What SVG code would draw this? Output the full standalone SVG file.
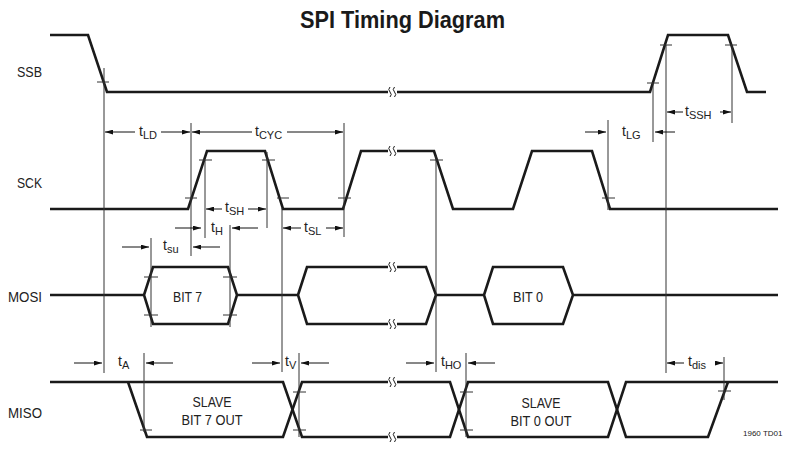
<svg xmlns="http://www.w3.org/2000/svg" width="785" height="451" viewBox="0 0 785 451">
<defs>
<marker id="ah" viewBox="0 0 10 6" refX="10" refY="3" markerWidth="8" markerHeight="5" orient="auto" markerUnits="userSpaceOnUse"><path d="M0,0 L10,3 L0,6 z" fill="#111"/></marker>
</defs>
<style>
.sig{fill:none;stroke:#1a1a1a;stroke-width:2.6;stroke-linejoin:miter}
.thin{fill:none;stroke:#333;stroke-width:1}
.tick{fill:none;stroke:#333;stroke-width:1}
.arr{fill:none;stroke:#111;stroke-width:1;marker-end:url(#ah)}
.brk{fill:none;stroke:#1a1a1a;stroke-width:1}
.gap{fill:#fff;stroke:none}
text{font-family:"Liberation Sans Narrow","Liberation Sans",Arial,sans-serif;fill:#222}
.title{font-size:24px;font-weight:bold;fill:#1a1a1a}
.name{font-size:14px}
.lbl{font-size:14px}
.t{font-size:14px}
.sub{font-size:11px}
.small{font-size:8px}
</style>
<rect width="785" height="451" fill="#fff"/>
<text class="title" x="300" y="28" textLength="205" lengthAdjust="spacingAndGlyphs">SPI Timing Diagram</text>

<g id="SSB">
<text class="name" x="17" y="77" textLength="25" lengthAdjust="spacingAndGlyphs">SSB</text>
<path class="sig" d="M50,35 H88 L107,92 H650 L668,35 H728 L747,92 H766"/>
<path class="tick" d="M97,82 H109 M647,83 H659 M660,45 H672 M725,45 H737"/>
</g>

<g id="SCK">
<text class="name" x="17" y="188" textLength="25" lengthAdjust="spacingAndGlyphs">SCK</text>
<path class="sig" d="M50,209 H188 L207,151 H265 L283,209 H343 L361,151 H434 L453,209 H513 L532,151 H592 L610,209 H778"/>
<path class="tick" d="M185,198 H197 M199,160 H212 M262,160 H275 M277,198 H289 M338,198 H351 M430,160 H443 M602,198 H615"/>
</g>

<g id="MOSI">
<text class="name" x="8" y="302" textLength="34" lengthAdjust="spacingAndGlyphs">MOSI</text>
<path class="sig" d="M50,295 H144 M144,295 L153,267 H228 L237,295 L228,324 H153 Z M237,295 H298 M298,295 L307,267 H426 L436,295 L426,324 H307 Z M436,295 H484 M484,295 L493,267 H563 L573,295 L563,324 H493 Z M573,295 H778"/>
<path class="tick" d="M144,277 H158 M144,315 H158 M223,277 H237 M223,315 H237"/>
<text class="lbl" x="173" y="302" textLength="29" lengthAdjust="spacingAndGlyphs">BIT 7</text>
<text class="lbl" x="513" y="302" textLength="30" lengthAdjust="spacingAndGlyphs">BIT 0</text>
</g>

<g id="MISO">
<text class="name" x="8" y="418" textLength="34" lengthAdjust="spacingAndGlyphs">MISO</text>
<path class="sig" d="M50,382 H283 L302,437 H450 L468,382 H608 L626,437 H708 L728,382"/>
<path class="sig" d="M128,382 L147,437 H283 L302,382 H450 L468,437 H608 L626,382 H778"/>
<path class="tick" d="M140,430 H152 M293,392 H306 M293,430 H306 M460,392 H473 M460,430 H473 M718,391 H731"/>
<text class="lbl" x="212" y="407" text-anchor="middle" textLength="39" lengthAdjust="spacingAndGlyphs">SLAVE</text>
<text class="lbl" x="212" y="425" text-anchor="middle" textLength="61" lengthAdjust="spacingAndGlyphs">BIT 7 OUT</text>
<text class="lbl" x="541" y="408" text-anchor="middle" textLength="39" lengthAdjust="spacingAndGlyphs">SLAVE</text>
<text class="lbl" x="541" y="426" text-anchor="middle" textLength="61" lengthAdjust="spacingAndGlyphs">BIT 0 OUT</text>
</g>

<g id="breaks">
<rect class="gap" x="388" y="86" width="9" height="12"/>
<rect class="gap" x="388" y="145" width="9" height="12"/>
<rect class="gap" x="388" y="261" width="9" height="12"/>
<rect class="gap" x="388" y="318" width="9" height="12"/>
<rect class="gap" x="388" y="376" width="9" height="12"/>
<rect class="gap" x="388" y="431" width="9" height="12"/>
<path class="brk" d="M390,87 q-2.5,2.5 0,5 q2.5,2.5 0,5 M394.5,87 q-2.5,2.5 0,5 q2.5,2.5 0,5"/>
<path class="brk" d="M390,146 q-2.5,2.5 0,5 q2.5,2.5 0,5 M394.5,146 q-2.5,2.5 0,5 q2.5,2.5 0,5"/>
<path class="brk" d="M390,262 q-2.5,2.5 0,5 q2.5,2.5 0,5 M394.5,262 q-2.5,2.5 0,5 q2.5,2.5 0,5"/>
<path class="brk" d="M390,319 q-2.5,2.5 0,5 q2.5,2.5 0,5 M394.5,319 q-2.5,2.5 0,5 q2.5,2.5 0,5"/>
<path class="brk" d="M390,377 q-2.5,2.5 0,5 q2.5,2.5 0,5 M394.5,377 q-2.5,2.5 0,5 q2.5,2.5 0,5"/>
<path class="brk" d="M390,432 q-2.5,2.5 0,5 q2.5,2.5 0,5 M394.5,432 q-2.5,2.5 0,5 q2.5,2.5 0,5"/>
</g>

<g id="connectors">
<path class="thin" d="M104,68 V373 M191,123 V256 M205,160 V238 M267,152 V228 M151,238 V327 M230,225 V327 M282,208 V372 M344,123 V237 M436,155 V372 M608,120 V210 M653,83 V142 M666,45 V373 M732,45 V123 M144,353 V432 M299,353 V437 M466,353 V437 M724,357 V400"/>
<line class="arr" x1="135" y1="132" x2="105" y2="132"/>
<line class="arr" x1="161" y1="132" x2="190" y2="132"/>
<line class="arr" x1="252" y1="132" x2="192" y2="132"/>
<line class="arr" x1="287" y1="132" x2="343" y2="132"/>
<line class="arr" x1="222" y1="209" x2="206" y2="209"/>
<line class="arr" x1="248" y1="209" x2="266" y2="209"/>
<line class="arr" x1="175" y1="228" x2="201" y2="228"/>
<line class="arr" x1="258" y1="228" x2="232" y2="228"/>
<line class="arr" x1="122" y1="247" x2="149" y2="247"/>
<line class="arr" x1="220" y1="247" x2="193" y2="247"/>
<line class="arr" x1="301" y1="228" x2="283" y2="228"/>
<line class="arr" x1="326" y1="228" x2="343" y2="228"/>
<line class="arr" x1="585" y1="132" x2="606" y2="132"/>
<line class="arr" x1="675" y1="132" x2="655" y2="132"/>
<line class="arr" x1="683" y1="112" x2="667" y2="112"/>
<line class="arr" x1="720" y1="112" x2="731" y2="112"/>
<line class="arr" x1="74" y1="363" x2="102" y2="363"/>
<line class="arr" x1="173" y1="363" x2="146" y2="363"/>
<line class="arr" x1="252" y1="363" x2="280" y2="363"/>
<line class="arr" x1="329" y1="363" x2="301" y2="363"/>
<line class="arr" x1="406" y1="363" x2="434" y2="363"/>
<line class="arr" x1="495" y1="363" x2="468" y2="363"/>
<line class="arr" x1="684" y1="363" x2="667" y2="363"/>
<line class="arr" x1="716" y1="363" x2="723" y2="363"/>
</g>

<g id="labels">
<text class="t" x="139" y="136">t<tspan class="sub" dy="3">LD</tspan></text>
<text class="t" x="255" y="136">t<tspan class="sub" dy="3">CYC</tspan></text>
<text class="t" x="225" y="212">t<tspan class="sub" dy="3">SH</tspan></text>
<text class="t" x="211" y="232">t<tspan class="sub" dy="3">H</tspan></text>
<text class="t" x="163" y="250">t<tspan class="sub" dy="3">su</tspan></text>
<text class="t" x="304" y="232">t<tspan class="sub" dy="3">SL</tspan></text>
<text class="t" x="622" y="136">t<tspan class="sub" dy="3">LG</tspan></text>
<text class="t" x="685" y="116">t<tspan class="sub" dy="3">SSH</tspan></text>
<text class="t" x="118" y="366">t<tspan class="sub" dy="3">A</tspan></text>
<text class="t" x="285" y="366">t<tspan class="sub" dy="3">V</tspan></text>
<text class="t" x="441" y="366">t<tspan class="sub" dy="3">HO</tspan></text>
<text class="t" x="688" y="366">t<tspan class="sub" dy="3">dis</tspan></text>
<text class="small" x="743" y="436">1960 TD01</text>
</g>
</svg>
